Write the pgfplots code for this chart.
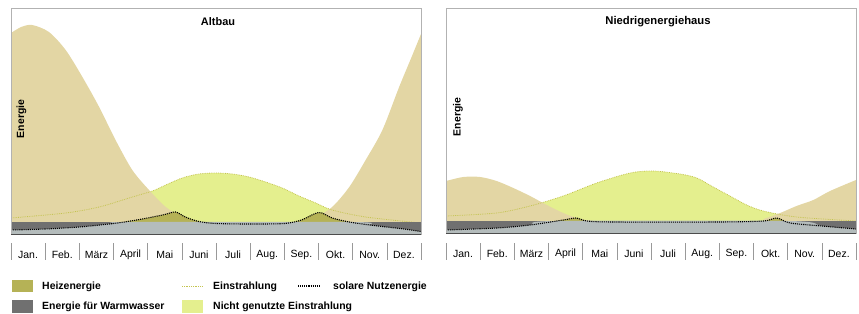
\documentclass[border=0pt]{standalone}
\usepackage{fontspec}
\setmainfont{Liberation Sans}
\usepackage{pgfplots}
\pgfplotsset{compat=1.18}
\definecolor{tanc}{RGB}{227,214,164}
\definecolor{lgreen}{RGB}{228,239,142}
\definecolor{olivec}{RGB}{181,178,86}
\definecolor{dgrey}{RGB}{112,112,112}
\definecolor{lgrey}{RGB}{180,188,188}
\definecolor{irr}{RGB}{196,196,80}
\pgfplotsset{panel/.style={
  scale only axis, width=410bp, height=226bp,
  xmin=0, xmax=12, ymin=0, ymax=226,
  axis line style={draw=gray!60},
  ytick=\empty,
  xtick={0.5,1.5,...,11.5},
  xticklabels={Jan.,Feb.,März,April,Mai,Juni,Juli,Aug.,Sep.,Okt.,Nov.,Dez.},
  major tick length=0pt,
  xticklabel style={anchor=center, yshift=-20.5bp, font=\fontsize{10.5}{12}\selectfont},
  axis on top, clip=true,
}}
\begin{document}
\begin{tikzpicture}
\useasboundingbox (0,0) rectangle (859bp,314bp);
% ---------------- Altbau ----------------
\begin{axis}[panel, at={(11bp,80bp)}, anchor=south west]
\addplot[fill=lgreen, draw=none, smooth] coordinates {
(0,16) (1.6,21) (2.58,27) (3.55,37) (4.14,43) (4.53,49) (5.01,56) (5.5,60) (5.99,61) (6.48,60) (6.97,57) (7.45,52) (7.94,46) (8.43,38) (8.92,31) (9.4,24) (10.38,17) (12,11)} \closedcycle;
\addplot[fill=tanc, draw=none, smooth] coordinates {
(0,201) (0.3,207) (0.62,209) (1.11,202) (1.6,184) (2.09,157) (2.58,127) (3.06,94) (3.55,64) (4.04,44) (4.53,27) (5.01,17) (5.5,12) (6.5,10) (7.5,10) (8.4,12) (8.92,17) (9.4,27) (9.9,47) (10.38,74) (10.87,104) (11.36,147) (11.7,175) (12,200)} \closedcycle;
\addplot[irr, densely dotted, line width=0.8pt, smooth] coordinates {
(0,16) (1.6,21) (2.58,27) (3.55,37) (4.14,43) (4.53,49) (5.01,56) (5.5,60) (5.99,61) (6.48,60) (6.97,57) (7.45,52) (7.94,46) (8.43,38) (8.92,31) (9.4,24) (10.38,17) (12,11)};
\addplot[fill=olivec, draw=none, smooth] coordinates {
(0,4) (1,5) (2,7) (3,10.5) (3.5,13) (4,16) (4.5,19.5) (4.82,22) (5.1,17) (5.5,12.5) (6,10.5) (7,10) (8,10.5) (8.5,14) (9.01,21.5) (9.4,16) (9.9,12) (10.5,9) (11,7) (11.5,5) (12,2.5)} \closedcycle;
\addplot[fill=dgrey, draw=none] coordinates {(0,12) (12,12)} \closedcycle;
\addplot[fill=lgrey, draw=none, smooth] coordinates {
(0,4) (1,5) (2,7) (3,10.5) (3.4,12) (10,12) (10.5,9) (11,7) (11.5,5) (12,2.5)} \closedcycle;
\addplot[black, densely dotted, line width=1.1pt, smooth] coordinates {
(0,4) (1,5) (2,7) (3,10.5) (3.5,13) (4,16) (4.5,19.5) (4.82,22) (5.1,17) (5.5,12.5) (6,10.5) (7,10) (8,10.5) (8.5,14) (9.01,21.5) (9.4,16) (9.9,12) (10.5,9) (11,7) (11.5,5) (12,2.5)};
\end{axis}
% ---------------- Niedrigenergiehaus ----------------
\begin{axis}[panel, at={(446bp,81bp)}, anchor=south west, height=225bp, ymax=225]
\addplot[fill=lgreen, draw=none, smooth] coordinates {
(0,17) (1.48,20) (2.46,27) (3.43,37) (4.41,50) (5.39,60) (6.07,62) (6.85,59) (7.34,55) (7.82,46) (8.31,37) (8.8,28) (9.29,22) (10.26,16) (12,12)} \closedcycle;
\addplot[fill=tanc, draw=none, smooth] coordinates {
(0,52) (0.51,56) (1.0,56) (1.48,52) (1.97,45) (2.46,37) (2.95,28) (3.43,20) (3.92,14) (4.41,12) (5,11) (9,11) (9.3,14) (9.78,20) (10.26,27) (10.75,33) (11.24,42) (12,53)} \closedcycle;
\addplot[irr, densely dotted, line width=0.8pt, smooth] coordinates {
(0,17) (1.48,20) (2.46,27) (3.43,37) (4.41,50) (5.39,60) (6.07,62) (6.85,59) (7.34,55) (7.82,46) (8.31,37) (8.8,28) (9.29,22) (10.26,16) (12,12)};
\addplot[fill=olivec, draw=none, smooth] coordinates {
(0,3) (1.5,5) (2.46,8) (3.43,13) (3.82,15) (4.12,12) (4.9,11) (8,11) (9.29,12) (9.68,15) (10.07,10) (11,7) (12,4)} \closedcycle;
\addplot[fill=dgrey, draw=none] coordinates {(0,12) (12,12)} \closedcycle;
\addplot[fill=lgrey, draw=none, smooth] coordinates {
(0,3) (1.5,5) (2.46,8) (3.2,12) (10,12) (11,7) (12,4)} \closedcycle;
\addplot[black, densely dotted, line width=1.1pt, smooth] coordinates {
(0,3) (1.5,5) (2.46,8) (3.43,13) (3.82,15) (4.12,12) (4.9,11) (8,11) (9.29,12) (9.68,15) (10.07,10) (11,7) (12,4)};
\end{axis}
% bottom lines and month separators
\draw[black!70, line width=0.8pt] (11bp,80bp) -- (421bp,80bp);
\draw[black!70, line width=0.8pt] (446bp,81bp) -- (856bp,81bp);
\foreach \i in {0,...,12} {
  \draw[gray!80, line width=0.6pt] ({(11+\i*410/12)*1bp}, 54bp) -- ++(0,17bp);
  \draw[gray!80, line width=0.6pt] ({(446+\i*410/12)*1bp}, 54bp) -- ++(0,17bp);
}
% titles and y labels
\node[font=\fontsize{11}{13}\selectfont\bfseries] at (218bp,292bp) {Altbau};
\node[font=\fontsize{11.3}{13}\selectfont\bfseries] at (658bp,292bp) {Niedrigenergiehaus};
\node[font=\fontsize{10.5}{12}\selectfont\bfseries, rotate=90] at (21.5bp,195bp) {Energie};
\node[font=\fontsize{10.5}{12}\selectfont\bfseries, rotate=90] at (458bp,197bp) {Energie};
% legend
\fill[olivec] (12bp,22bp) rectangle (33bp,34bp);
\node[anchor=west, font=\fontsize{10.5}{12}\selectfont\bfseries, inner sep=0pt] at (42bp,27bp) {Heizenergie};
\fill[dgrey] (12bp,1.5bp) rectangle (33bp,13.5bp);
\node[anchor=west, font=\fontsize{10.5}{12}\selectfont\bfseries, inner sep=0pt] at (42bp,7bp) {Energie für Warmwasser};
\draw[irr, densely dotted, line width=0.8pt] (182bp,28bp) -- (203bp,28bp);
\node[anchor=west, font=\fontsize{10.5}{12}\selectfont\bfseries, inner sep=0pt] at (213bp,27bp) {Einstrahlung};
\fill[lgreen] (182bp,1.5bp) rectangle (203bp,13.5bp);
\node[anchor=west, font=\fontsize{10.5}{12}\selectfont\bfseries, inner sep=0pt] at (213bp,7bp) {Nicht genutzte Einstrahlung};
\draw[black, densely dotted, line width=1.1pt] (298bp,28bp) -- (321bp,28bp);
\node[anchor=west, font=\fontsize{10.5}{12}\selectfont\bfseries, inner sep=0pt] at (333bp,27bp) {solare Nutzenergie};
\end{tikzpicture}
\end{document}
